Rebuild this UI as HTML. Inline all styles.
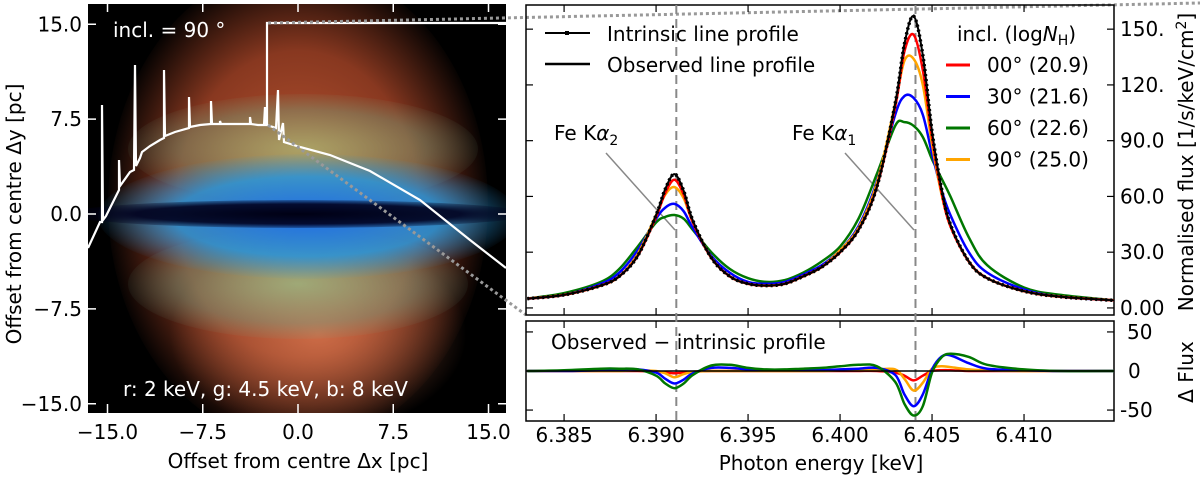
<!DOCTYPE html>
<html><head><meta charset="utf-8"><style>
body{margin:0;background:#fff;width:1200px;height:477px;overflow:hidden;font-family:"DejaVu Sans","Liberation Sans",sans-serif}
#img{position:absolute;left:88px;top:4px;width:418px;height:409px;background:#000;overflow:hidden}
#img div{position:absolute;border-radius:50%}
svg{position:absolute;left:0;top:0}
</style></head><body>
<div id="img">
 <div style="left:20px;top:-40px;width:380px;height:480px;background:radial-gradient(ellipse at center,rgba(205,95,55,0.95) 0%,rgba(170,70,40,0.8) 45%,rgba(0,0,0,0) 72%)"></div>
 <div style="left:80px;top:230px;width:300px;height:200px;background:radial-gradient(ellipse at center,rgba(220,120,80,0.8) 0%,rgba(0,0,0,0) 70%)"></div>
 <div style="left:40px;top:90px;width:350px;height:110px;background:radial-gradient(ellipse at center,rgba(170,190,120,0.75) 0%,rgba(120,170,130,0.4) 50%,rgba(0,0,0,0) 75%)"></div>
 <div style="left:40px;top:225px;width:340px;height:110px;background:radial-gradient(ellipse at center,rgba(150,195,140,0.75) 0%,rgba(110,170,140,0.4) 50%,rgba(0,0,0,0) 75%)"></div>
 <div style="left:10px;top:150px;width:420px;height:125px;background:radial-gradient(ellipse at center,rgba(30,110,230,1) 0%,rgba(40,150,220,0.85) 45%,rgba(0,0,0,0) 72%)"></div>
 <div style="left:-20px;top:196px;width:460px;height:28px;background:radial-gradient(ellipse at center,rgba(0,0,20,1) 0%,rgba(0,0,30,0.9) 50%,rgba(0,0,0,0) 80%)"></div>
</div>
<svg id="svg" width="1200" height="477" xmlns="http://www.w3.org/2000/svg"></svg>
<script>
// ---- data ----
const energy=[6.383,6.385,6.387,6.388,6.389,6.3900,6.3905,6.391,6.3915,6.392,6.393,6.394,6.395,6.396,6.397,6.398,6.399,6.400,6.401,6.402,6.403,6.4035,6.404,6.4045,6.405,6.4055,6.406,6.407,6.408,6.410,6.412,6.415];
const fluxIntrinsic=[5,7,12,17,28,50,64,72,63,47,27,17,13,12,13,17,22,30,42,65,110,142,157,136,95,65,45,25,16,9,6,4];
const flux00=[5,7,12,17,28,49,62,69,61,46,27,17,13,12,13,17,22,30,42,65,108,138,147,128,92,63,44,25,16,9,6,4];
const flux30=[5,7,13,19,31,48,54,56,52,43,28,19,14,13,14,18,23,31,44,68,104,114,113,104,83,64,50,30,19,10,6,4];
const flux60=[5,8,14,21,33,46,49,50,48,42,30,21,16,14,15,19,25,33,48,72,98,100,98,92,80,70,60,38,23,11,7,4];
const flux90=[5,7,12,17,29,50,61,65,59,46,27,17,13,12,13,17,22,31,43,67,110,133,134,120,88,62,44,25,16,9,6,4];
const resid00=[0,0,0,0,0,-1,-2,-3,-2,-1,0,0,0,0,0,0,0,0,0,0,-2,-6,-12,-6,0,1,1,0,0,0,0,0];
const resid30=[0,0,1,2,2,-2,-10,-16,-11,-3,4,4,2,1,1,1,1,2,3,4,-5,-30,-45,-30,2,18,20,10,3,1,0,0];
const resid60=[0,1,3,3,2,-6,-16,-22,-16,-5,7,8,4,2,2,3,4,6,8,6,-14,-42,-57,-45,-2,17,22,18,8,2,0,0];
const resid90=[0,0,0,0,1,0,-3,-8,-4,-1,0,0,0,0,0,0,0,1,1,2,2,-10,-25,-15,3,6,5,2,1,0,0,0];
const xTicks=[6.385,6.390,6.395,6.400,6.405,6.410];
const xTickLabels=["6.385","6.390","6.395","6.400","6.405","6.410"];
const yTicks=[0,30,60,90,120,150];
const yTickLabels=["0.00","30.0","60.0","90.0","120.","150."];
const rTicks=[-50,0,50];
const rTickLabels=["-50","0","50"];
const lineCenters=[6.3911,6.4041];
const legendLabels=["00° (20.9)","30° (21.6)","60° (22.6)","90° (25.0)"];
const legendColors=["#ff0000","#0000ff","#007700","#ffa500"];
const imgTicks=[-15,-7.5,0,7.5,15];
const imgTickLabels=["−15.0","−7.5","0.0","7.5","15.0"];

const NS="http://www.w3.org/2000/svg";
const svg=document.getElementById('svg');
function mk(tag,attrs,parent){const e=document.createElementNS(NS,tag);for(const k in attrs)e.setAttribute(k,attrs[k]);(parent||svg).appendChild(e);return e;}
const X0=526,X1=1114,E0=6.38293,E1=6.41489;
const xs=e=>X0+(e-E0)/(E1-E0)*(X1-X0);
const T0=5,T1=315,F0=163,F1=-3.8;
const ys=f=>T0+(F0-f)/(F0-F1)*(T1-T0);
const B0=321,B1=421,R0=64,R1=-64;
const yr=r=>B0+(R0-r)/(R0-R1)*(B1-B0);
const ix=v=>298+v*12.7, iy=v=>214-v*12.65;

function smooth(pts){let d=`M${pts[0][0]},${pts[0][1]}`;for(let i=0;i<pts.length-1;i++){const p0=pts[i-1]||pts[i],p1=pts[i],p2=pts[i+1],p3=pts[i+2]||p2;const c1=[p1[0]+(p2[0]-p0[0])/6,p1[1]+(p2[1]-p0[1])/6],c2=[p2[0]-(p3[0]-p1[0])/6,p2[1]-(p3[1]-p1[1])/6];d+=`C${c1[0].toFixed(1)},${c1[1].toFixed(1)} ${c2[0].toFixed(1)},${c2[1].toFixed(1)} ${p2[0].toFixed(1)},${p2[1].toFixed(1)}`;}return d;}

const defs=mk('defs',{});
const c1=mk('clipPath',{id:'ctop'},defs);mk('rect',{x:X0,y:T0,width:X1-X0,height:T1-T0},c1);
const c2=mk('clipPath',{id:'cbot'},defs);mk('rect',{x:X0,y:B0,width:X1-X0,height:B1-B0},c2);

let t;
const spec=mk('path',{d:"M88,248 L100,222 L102,222 L102,105 L103,220 L106,216 L119,190 L119,160 L120,186 L130,172 L134,170 L135,65 L136,166 L140,158 L142,152 L150,146 L160,140 L164,138 L164,70 L165,136 L175,132 L189,128 L189,97 L190,127 L200,125 L211,124 L211,101 L212,124 L220,124 L220,121 L221,124 L240,124 L250,124 L250,117 L251,124 L258,125 L264,125 L265,107 L266,125 L267,125 L267,23 L506,23 M267,125 L276,128 L278,90 L279,140 L283,123 L284,142 L300,147 L330,155 L370,171 L420,200 L470,240 L506,268",fill:'none',stroke:'#fff','stroke-width':2.2});

mk('path',{d:"M268,23 L1200,3",stroke:'#999','stroke-width':3,'stroke-dasharray':'3 3',fill:'none'});
mk('path',{d:"M268,125 L526,315",stroke:'#999','stroke-width':3,'stroke-dasharray':'3 3',fill:'none'});
imgTicks.forEach((v,i)=>{
 mk('line',{x1:ix(v),x2:ix(v),y1:404,y2:413,stroke:'#fff','stroke-width':1.5});
 mk('line',{x1:ix(v),x2:ix(v),y1:4,y2:12,stroke:'#fff','stroke-width':1.5});
 mk('line',{x1:88,x2:96,y1:iy(v),y2:iy(v),stroke:'#fff','stroke-width':1.5});
 mk('line',{x1:498,x2:506,y1:iy(v),y2:iy(v),stroke:'#fff','stroke-width':1.5});
 t=mk('text',{x:ix(v),y:439,'text-anchor':'middle','font-size':20});t.textContent=imgTickLabels[i];
 
 t=mk('text',{x:82,y:iy(v)+7,'text-anchor':'end','font-size':20});t.textContent=imgTickLabels[i];
 
});
t=mk('text',{x:113,y:37,fill:'#fff','font-size':20});t.textContent="incl. = 90 °";

t=mk('text',{x:123,y:396,fill:'#fff','font-size':20});t.textContent="r: 2 keV, g: 4.5 keV, b: 8 keV";

t=mk('text',{x:298,y:468,'text-anchor':'middle','font-size':20});t.textContent="Offset from centre Δx [pc]";

t=mk('text',{x:0,y:0,'text-anchor':'middle','font-size':20,transform:'translate(21,214) rotate(-90)'});t.textContent="Offset from centre Δy [pc]";


mk('rect',{x:X0,y:T0,width:X1-X0,height:T1-T0,fill:'none',stroke:'#000','stroke-width':1.5});
mk('rect',{x:X0,y:B0,width:X1-X0,height:B1-B0,fill:'none',stroke:'#000','stroke-width':1.5});
xTicks.forEach((v,i)=>{
 [[T1-7,T1],[T0,T0+7],[B1-7,B1],[B0,B0+7]].forEach(p=>mk('line',{x1:xs(v),x2:xs(v),y1:p[0],y2:p[1],stroke:'#000','stroke-width':1.2}));
 t=mk('text',{x:xs(v),y:442,'text-anchor':'middle','font-size':20});t.textContent=xTickLabels[i];
 
});
yTicks.forEach((v,i)=>{
 mk('line',{x1:X0,x2:X0+7,y1:ys(v),y2:ys(v),stroke:'#000','stroke-width':1.2});
 mk('line',{x1:X1-7,x2:X1,y1:ys(v),y2:ys(v),stroke:'#000','stroke-width':1.2});
 t=mk('text',{x:1120,y:ys(v)+7,'font-size':20});t.textContent=yTickLabels[i];
 
});
rTicks.forEach((v,i)=>{
 mk('line',{x1:X0,x2:X0+7,y1:yr(v),y2:yr(v),stroke:'#000','stroke-width':1.2});
 mk('line',{x1:X1-7,x2:X1,y1:yr(v),y2:yr(v),stroke:'#000','stroke-width':1.2});
 t=mk('text',{x:v<0?1120:(v==0?1128:1127),y:yr(v)+7,'font-size':20});t.textContent=rTickLabels[i];
 
});
mk('line',{x1:606,y1:153,x2:675,y2:230,stroke:'#888','stroke-width':1.5});
mk('line',{x1:845,y1:153,x2:914,y2:230,stroke:'#888','stroke-width':1.5});
lineCenters.forEach(c=>{const l=mk('line',{x1:xs(c),x2:xs(c),y1:T0,y2:B1,stroke:'#888','stroke-width':2,'stroke-dasharray':'9 5'});
 });
const gT=mk('g',{'clip-path':'url(#ctop)'}), gB=mk('g',{'clip-path':'url(#cbot)'});
const obs=[flux60,flux30,flux90,flux00], obsC=[legendColors[2],legendColors[1],legendColors[3],legendColors[0]];
const res=[resid00,resid90,resid30,resid60], resC=[legendColors[0],legendColors[3],legendColors[1],legendColors[2]];
const names=['60','30','90','00'], rnames=['00','90','30','60'];
obs.forEach((s,k)=>{const p=mk('path',{d:smooth(energy.map((e,i)=>[xs(e),ys(s[i])])),fill:'none',stroke:obsC[k],'stroke-width':2.5},gT);
 });
const pi=mk('path',{d:smooth(energy.map((e,i)=>[xs(e),ys(fluxIntrinsic[i])])),fill:'none',stroke:'#000','stroke-width':2},gT);

mk('path',{d:smooth(energy.map((e,i)=>[xs(e),ys(fluxIntrinsic[i])])),fill:'none',stroke:'#000','stroke-width':3.5,'stroke-dasharray':'2 3'},gT);
res.forEach((s,k)=>{const p=mk('path',{d:smooth(energy.map((e,i)=>[xs(e),yr(s[i])])),fill:'none',stroke:resC[k],'stroke-width':2.5},gB);
 });
mk('line',{x1:X0,x2:X1,y1:yr(0),y2:yr(0),stroke:'#000','stroke-width':1.5});
t=mk('text',{x:554,y:140,'font-size':20});t.innerHTML='Fe K<tspan font-style="italic">α</tspan><tspan font-size="14" dy="5">2</tspan>';

t=mk('text',{x:792,y:140,'font-size':20});t.innerHTML='Fe K<tspan font-style="italic">α</tspan><tspan font-size="14" dy="5">1</tspan>';

mk('line',{x1:545,x2:590,y1:33,y2:33,stroke:'#000','stroke-width':2});
mk('rect',{x:565,y:31,width:4,height:4,fill:'#000'});
t=mk('text',{x:607,y:41,'font-size':20});t.textContent="Intrinsic line profile";

mk('line',{x1:545,x2:590,y1:64,y2:64,stroke:'#000','stroke-width':2.5});
t=mk('text',{x:607,y:72,'font-size':20});t.textContent="Observed line profile";

t=mk('text',{x:957,y:41,'font-size':20});t.innerHTML='incl. (log<tspan font-style="italic">N</tspan><tspan font-size="14" dy="4">H</tspan><tspan dy="-4">)</tspan>';

legendLabels.forEach((s,i)=>{const y=65+i*31.5;
 mk('line',{x1:946,x2:970,y1:y,y2:y,stroke:legendColors[i],'stroke-width':3});
 t=mk('text',{x:987,y:y+7,'font-size':20});t.textContent=s;
 });
t=mk('text',{x:551,y:349,'font-size':20});t.textContent="Observed − intrinsic profile";

t=mk('text',{x:821,y:470,'text-anchor':'middle','font-size':20});t.textContent="Photon energy [keV]";

t=mk('text',{x:0,y:0,'text-anchor':'middle','font-size':20,transform:'translate(1193,162) rotate(-90)'});t.innerHTML='Normalised flux [1/s/keV/cm<tspan font-size="14" dy="-7">2</tspan><tspan dy="7">]</tspan>';

t=mk('text',{x:0,y:0,'text-anchor':'middle','font-size':20,transform:'translate(1193,372) rotate(-90)'});t.textContent="Δ Flux";

</script>
</body></html>
